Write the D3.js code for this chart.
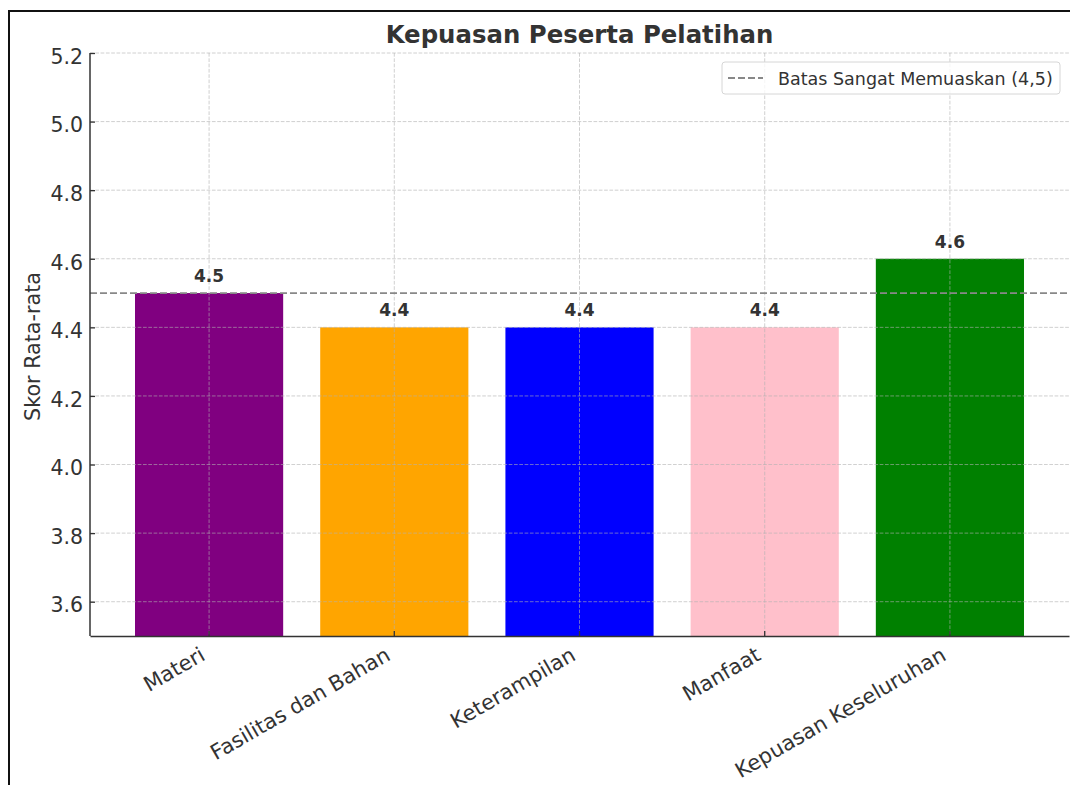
<!DOCTYPE html>
<html>
<head>
<meta charset="utf-8">
<script src="https://cdn.jsdelivr.net/npm/d3@7"></script>
<style>
  body { margin: 0; background: #fff; }
  svg { font-family: "DejaVu Sans", sans-serif; }
</style>
</head>
<body>
<div id="chart"></div>
<script>
const categories = ['Materi', 'Fasilitas dan Bahan', 'Keterampilan', 'Manfaat', 'Kepuasan Keseluruhan'];
const scores = [4.5, 4.4, 4.4, 4.4, 4.6];
const barColors = ['#800080', '#ffa500', '#0000ff', '#ffc0cb', '#008000'];
const yTicks = [3.6, 3.8, 4.0, 4.2, 4.4, 4.6, 4.8, 5.0, 5.2];
const threshold = 4.5;
const thresholdLabel = 'Batas Sangat Memuaskan (4,5)';

const width = 1070, height = 785;
const margin = { top: 53, right: 1, bottom: 149, left: 90 };
const textColor = '#333';
const font = '"DejaVu Sans", sans-serif';

const svg = d3.select('#chart')
  .append('svg')
  .attr('width', width)
  .attr('height', height);

// frame of the screenshot
svg.append('path')
  .attr('d', `M9,${height} V11 H${width}`)
  .attr('fill', 'none')
  .attr('stroke', '#111')
  .attr('stroke-width', 2);

const x = d3.scaleBand()
  .domain(categories)
  .range([margin.left, width - margin.right])
  .paddingInner(0.2)
  .paddingOuter(0.243);

const y = d3.scaleLinear()
  .domain([3.5, 5.2])
  .range([height - margin.bottom, margin.top]);

// bars
svg.selectAll('rect.bar')
  .data(scores)
  .enter()
  .append('rect')
  .attr('class', 'bar')
  .attr('x', (d, i) => x(categories[i]))
  .attr('y', d => y(d))
  .attr('width', x.bandwidth())
  .attr('height', d => y(3.5) - y(d))
  .attr('fill', (d, i) => barColors[i]);

// grid
const grid = svg.append('g').attr('stroke', '#b0b0b0').attr('stroke-opacity', 0.6)
  .attr('stroke-dasharray', '3.7,1.6').attr('stroke-width', 1);

yTicks.forEach(t => {
  grid.append('line')
    .attr('x1', margin.left).attr('x2', width - margin.right)
    .attr('y1', y(t)).attr('y2', y(t));
});

categories.forEach(c => {
  const cx = x(c) + x.bandwidth() / 2;
  grid.append('line')
    .attr('x1', cx).attr('x2', cx)
    .attr('y1', y(5.2)).attr('y2', y(3.5));
});

// threshold line
svg.append('line')
  .attr('x1', margin.left).attr('x2', width - margin.right)
  .attr('y1', y(threshold)).attr('y2', y(threshold))
  .attr('stroke', '#888')
  .attr('stroke-width', 1.8)
  .attr('stroke-dasharray', '7,3');

// value labels
svg.selectAll('text.val')
  .data(scores)
  .enter()
  .append('text')
  .attr('class', 'val')
  .attr('x', (d, i) => x(categories[i]) + x.bandwidth() / 2)
  .attr('y', d => y(d) - 11)
  .attr('text-anchor', 'middle')
  .attr('font-size', 17)
  .attr('font-weight', 'bold')
  .attr('fill', textColor)
  .text(d => d.toFixed(1));

// y axis (ticks point inward)
const yAxis = svg.append('g')
  .attr('transform', `translate(${margin.left},0)`)
  .call(d3.axisLeft(y).tickValues(yTicks).tickFormat(d3.format('.1f')).tickSizeInner(-5).tickSizeOuter(0).tickPadding(7));
yAxis.select('.domain').attr('stroke', '#333').attr('stroke-width', 1.5).attr('d', `M0,${y(5.2)}V${y(3.5)}`);
yAxis.selectAll('.tick line').attr('stroke', '#333').attr('stroke-width', 1.3);
yAxis.selectAll('.tick text').attr('fill', textColor).attr('font-size', 20.5)
  .attr('font-family', font).attr('dy', '0.5em');

// x axis
const xAxis = svg.append('g')
  .attr('transform', `translate(0,${y(3.5)})`)
  .call(d3.axisBottom(x).tickSizeInner(-5).tickSizeOuter(0).tickPadding(6));
xAxis.select('.domain').attr('stroke', '#333').attr('stroke-width', 1.5);
xAxis.selectAll('.tick line').attr('stroke', '#333').attr('stroke-width', 1.3);
xAxis.selectAll('.tick text')
  .attr('fill', textColor)
  .attr('font-size', 21)
  .attr('font-family', font)
  .attr('text-anchor', 'end')
  .attr('dy', 0)
  .attr('y', 0)
  .attr('transform', 'translate(-2.5,23) rotate(-30)');

// y label
svg.append('text')
  .attr('transform', `translate(40,${(y(5.2) + y(3.5)) / 2 + 2}) rotate(-90)`)
  .attr('text-anchor', 'middle')
  .attr('font-size', 20.7)
  .attr('fill', textColor)
  .text('Skor Rata-rata');

// title
svg.append('text')
  .attr('x', (margin.left + width - margin.right) / 2)
  .attr('y', 43)
  .attr('text-anchor', 'middle')
  .attr('font-size', 24.4)
  .attr('font-weight', 'bold')
  .attr('fill', textColor)
  .text('Kepuasan Peserta Pelatihan');

// legend
const legend = svg.append('g');
legend.append('rect')
  .attr('x', 722).attr('y', 62).attr('width', 338).attr('height', 32)
  .attr('rx', 3)
  .attr('fill', '#fff').attr('fill-opacity', 0.8)
  .attr('stroke', '#d6d6d6');
legend.append('line')
  .attr('x1', 728).attr('x2', 763).attr('y1', 78).attr('y2', 78)
  .attr('stroke', '#888').attr('stroke-width', 1.8).attr('stroke-dasharray', '7,3');
legend.append('text')
  .attr('x', 778).attr('y', 85)
  .attr('font-size', 17.5)
  .attr('fill', textColor)
  .text(thresholdLabel);
</script>
</body>
</html>
